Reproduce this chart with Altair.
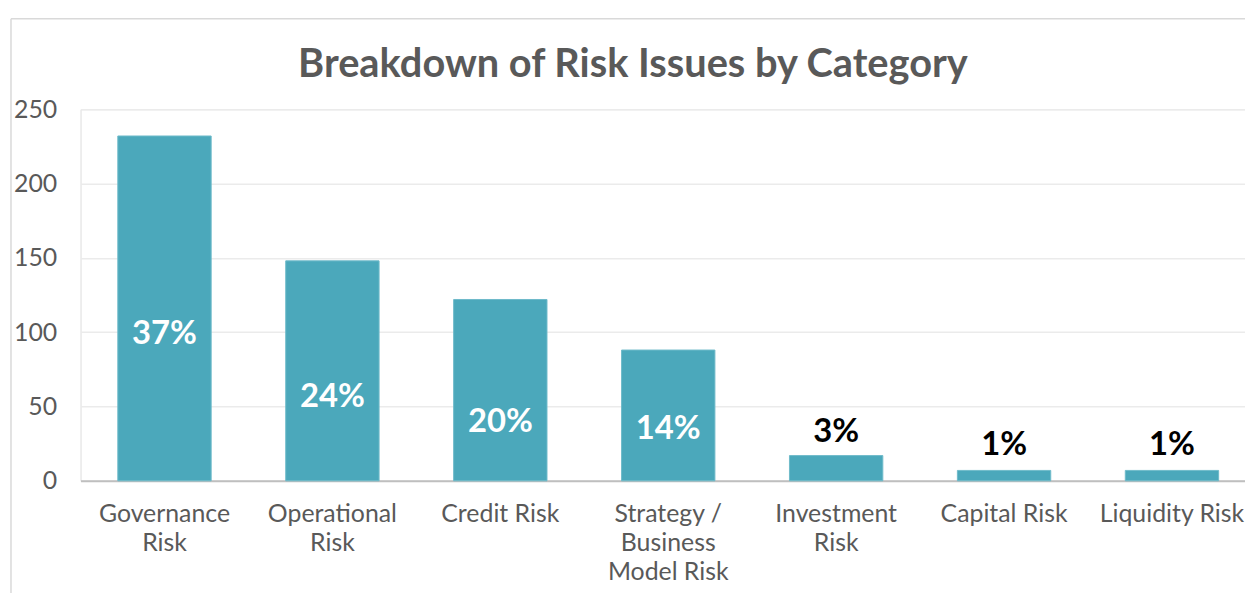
import altair as alt
import pandas as pd

# ---- data ----
categories = [
    "Governance\nRisk",
    "Operational\nRisk",
    "Credit Risk",
    "Strategy /\nBusiness\nModel Risk",
    "Investment\nRisk",
    "Capital Risk",
    "Liquidity Risk",
]
issue_counts = [232, 148, 122, 88, 17, 7, 7]
share_labels = ["37%", "24%", "20%", "14%", "3%", "1%", "1%"]
label_heights = [99, 56.5, 39.5, 35, 32.7, 23.8, 23.8]
y_ticks = [0, 50, 100, 150, 200, 250]
chart_title = ["Breakdown of Risk Issues by Category"]

df = pd.DataFrame({
    "category": categories,
    "count": issue_counts,
    "share": share_labels,
    "label_y": label_heights,
})

FONT = "Lato"
GRAY = "#595959"
BAR = "#4BA8BB"

x_scale = alt.Scale(paddingInner=0.444, paddingOuter=0.222)

x_enc = alt.X(
    "category:N",
    sort=categories,
    title=None,
    scale=x_scale,
    axis=alt.Axis(
        labelAngle=0,
        labelExpr="split(datum.value, '\\n')",
        labelFont=FONT,
        labelFontSize=25,
        labelColor=GRAY,
        labelPadding=21,
        labelLineHeight=29,
        labelBaseline="top",
        labelLimit=400,
        ticks=False,
        domainColor="#BFBFBF",
        domainWidth=2,
        grid=False,
    ),
)

y_scale = alt.Scale(domain=[0, 250])

bars = alt.Chart(df).mark_bar(color=BAR, stroke="#6FBACA", strokeWidth=1).encode(
    x=x_enc,
    y=alt.Y(
        "count:Q",
        scale=y_scale,
        title=None,
        axis=alt.Axis(
            values=y_ticks,
            domain=False,
            ticks=False,
            labelFont=FONT,
            labelFontSize=25,
            labelColor=GRAY,
            labelPadding=24,
            gridColor="#EBEBEB",
            gridWidth=1.5,
        ),
    ),
)

labels = alt.Chart(df).mark_text(
    font=FONT, fontSize=33, fontWeight="bold", baseline="middle", align="center"
).encode(
    x=alt.X("category:N", sort=categories),
    y=alt.Y("label_y:Q", scale=y_scale),
    text="share:N",
    color=alt.condition("datum.count > 50", alt.value("white"), alt.value("black")),
)

title_mark = alt.Chart(pd.DataFrame({"t": chart_title})).mark_text(
    font=FONT, fontSize=40, fontWeight="bold", color=GRAY,
    align="center", baseline="alphabetic",
).encode(text="t:N", x=alt.value(556), y=alt.value(-32))

frame_src = pd.DataFrame({"k": [0]})
left_border = alt.Chart(frame_src).mark_rule(color="#D9D9D9", strokeWidth=1.5).encode(
    x=alt.value(-70), y=alt.value(-91), y2=alt.value(700)
)
top_border = alt.Chart(frame_src).mark_rule(color="#D9D9D9", strokeWidth=1.5).encode(
    x=alt.value(-70), x2=alt.value(1400), y=alt.value(-91)
)

chart = alt.layer(bars, labels, title_mark, left_border, top_border).properties(
    width=1183,
    height=374,
    autosize=alt.AutoSizeParams(type="none"),
    padding={"left": 73, "top": 100, "right": -11, "bottom": 111},
).configure_view(strokeWidth=0).configure(background="white")

chart.save("out.html", embed_options={"renderer": "svg", "actions": False})
